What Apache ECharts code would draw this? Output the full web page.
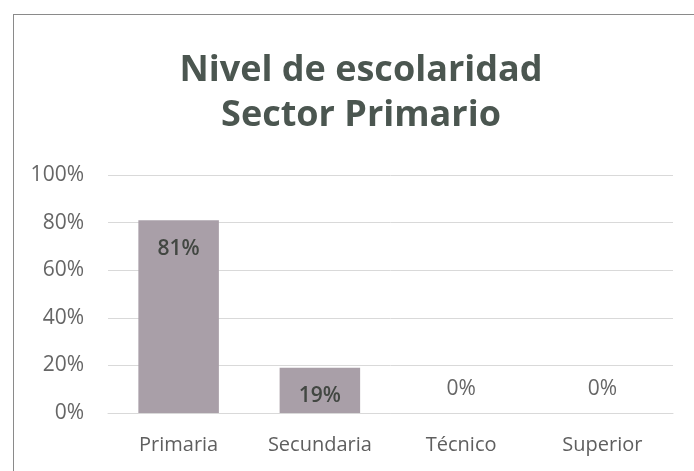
<!DOCTYPE html>
<html>
<head>
<meta charset="utf-8">
<script src="https://cdn.jsdelivr.net/npm/echarts@6/dist/echarts.min.js"></script>
<style>
  html, body { margin: 0; padding: 0; background: #fff; }
  #wrap { position: relative; width: 694px; height: 471px; }
  #chart { width: 694px; height: 471px; }
  .frame {
    position: absolute;
    left: 13px;
    top: 14px;
    right: 0;
    bottom: 0;
    border-left: 1px solid #8a8a8a;
    border-top: 1px solid #8a8a8a;
    pointer-events: none;
  }
</style>
</head>
<body>
<div id="wrap">
  <div id="chart"></div>
  <div class="frame"></div>
</div>
<script>
const categories = ["Primaria", "Secundaria", "Técnico", "Superior"];
const shares = [81, 19, 0, 0];
const yTicks = [0, 20, 40, 60, 80, 100];

const FONT = "'Open Sans', sans-serif";

const chart = echarts.init(document.getElementById("chart"), null, { renderer: "canvas" });

// zero bars get their label above the baseline, like the original
const barData = shares.map((v) =>
  v > 0
    ? { value: v }
    : { value: v, label: { position: "top", distance: 13, color: "#666", fontWeight: "normal" } },
);

chart.setOption({
  backgroundColor: "#fff",
  animation: false,
  title: {
    text: "Nivel de escolaridad\nSector Primario",
    left: 356,
    textAlign: "center",
    top: 43,
    textStyle: {
      fontFamily: FONT,
      fontSize: 36,
      fontWeight: "bold",
      color: "#4b5650",
      lineHeight: 45,
    },
  },
  grid: {
    left: 108,
    right: 21,
    top: 175,
    bottom: 58,
  },
  xAxis: {
    type: "category",
    data: categories,
    axisLine: { show: true, lineStyle: { color: "#d9d9d9" } },
    axisTick: { show: false },
    axisLabel: {
      fontFamily: FONT,
      fontSize: 20,
      color: "#5f5f5f",
      margin: 22,
    },
  },
  yAxis: {
    type: "value",
    min: yTicks[0],
    max: yTicks[yTicks.length - 1],
    interval: yTicks[1] - yTicks[0],
    axisLine: { show: false },
    axisTick: { show: false },
    axisLabel: {
      fontFamily: FONT,
      fontSize: 21,
      color: "#666",
      margin: 24,
      formatter: "{value}%",
    },
    splitLine: { lineStyle: { color: "#d9d9d9", width: 1 } },
  },
  series: [
    {
      type: "bar",
      data: barData,
      barWidth: "57%",
      itemStyle: { color: "#a99fa8" },
      label: {
        show: true,
        position: "insideTop",
        distance: 18,
        formatter: "{c}%",
        fontFamily: FONT,
        fontSize: 21,
        fontWeight: 600,
        color: "#424742",
      },
    },
  ],
});
</script>
</body>
</html>
